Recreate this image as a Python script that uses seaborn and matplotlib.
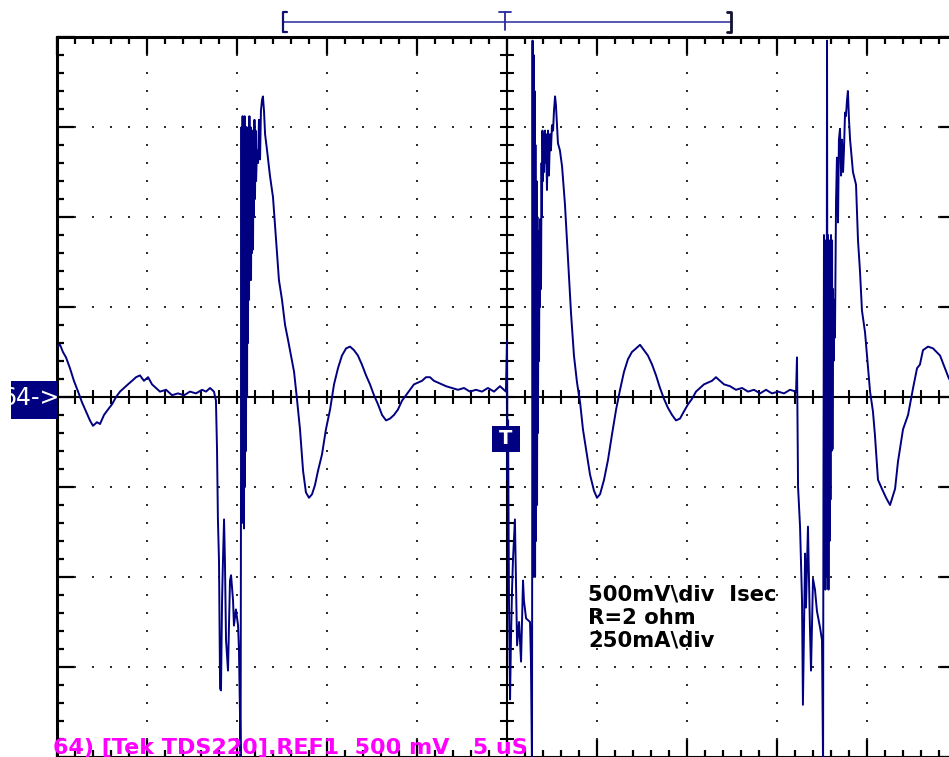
import numpy as np
import seaborn as sns
import matplotlib.pyplot as plt
from matplotlib.lines import Line2D
from matplotlib.patches import Rectangle
from matplotlib.ticker import MultipleLocator

# -----------------------------------------------------------------------------
# Tek TDS220 screen capture, REF1: 500 mV/div, 5 us/div, trigger at t = 0
# -----------------------------------------------------------------------------

# time in microseconds (relative to trigger)
time_us = [
    -25.0, -24.83, -24.67, -24.5, -24.28, -24.06, -23.83, -23.61, -23.39, -23.17,
    -23.0, -22.78, -22.61, -22.39, -22.17, -21.94, -21.72, -21.5, -21.28, -21.06,
    -20.83, -20.61, -20.39, -20.17, -19.94, -19.72, -19.5, -19.28, -18.94, -18.61,
    -18.28, -17.94, -17.61, -17.28, -16.94, -16.72, -16.5, -16.28, -16.17,
    # burst 1
    -16.11, -16.06, -16.0, -15.94, -15.89, -15.83, -15.78, -15.72, -15.67, -15.61,
    -15.5, -15.44, -15.39, -15.33, -15.22, -15.17, -15.06, -14.94, -14.89, -14.83,
    -14.8, -14.78, -14.75, -14.72, -14.69, -14.67, -14.64, -14.61, -14.58, -14.56,
    -14.53, -14.5, -14.47, -14.44, -14.42, -14.39, -14.36, -14.33, -14.31, -14.28,
    -14.25, -14.22, -14.19, -14.17, -14.14, -14.11, -14.08, -14.06, -14.03, -14.0,
    -13.97, -13.94, -13.89, -13.83, -13.78, -13.72, -13.67, -13.61, -13.56, -13.5,
    -13.44, -13.33, -13.17, -13.0, -12.83, -12.67,
    -12.5, -12.33, -12.17, -12.0, -11.83, -11.67, -11.5, -11.33, -11.17, -11.0,
    -10.83, -10.67, -10.5, -10.28, -10.06, -9.83, -9.61, -9.39, -9.17, -8.94,
    -8.72, -8.5, -8.28, -8.06, -7.83, -7.61, -7.39, -7.17, -6.94, -6.72,
    -6.5, -6.28, -6.06, -5.83, -5.61, -5.39, -5.17, -4.94, -4.72, -4.5,
    -4.28, -4.06, -3.83, -3.61, -3.39, -3.06, -2.72, -2.39, -2.06, -1.72,
    -1.39, -1.06, -0.72, -0.39, -0.17, -0.06,
    # burst 2 (trigger)
    0.0, 0.03, 0.06, 0.11, 0.17, 0.22, 0.28, 0.33, 0.44, 0.5,
    0.56, 0.67, 0.72, 0.78, 0.89, 0.94, 1.06, 1.17, 1.28, 1.33,
    1.39, 1.42, 1.45, 1.48, 1.5, 1.53, 1.56, 1.58, 1.61, 1.64,
    1.67, 1.69, 1.72, 1.75, 1.78, 1.81, 1.83, 1.86, 1.89, 1.92,
    1.94, 1.97, 2.0, 2.03, 2.06, 2.11, 2.14, 2.17, 2.22, 2.28,
    2.33, 2.39, 2.44, 2.5, 2.56, 2.61, 2.67, 2.72, 2.83, 2.94,
    3.06, 3.22, 3.39, 3.56,
    3.72, 3.89, 4.06, 4.22, 4.39, 4.61, 4.83, 5.0, 5.17, 5.39,
    5.61, 5.83, 6.06, 6.28, 6.5, 6.72, 6.94, 7.17, 7.39, 7.61,
    7.83, 8.06, 8.28, 8.5, 8.72, 8.94, 9.17, 9.39, 9.61, 9.83,
    10.06, 10.28, 10.5, 10.72, 10.94, 11.17, 11.39, 11.61, 11.83, 12.06,
    12.39, 12.72, 13.06, 13.39, 13.72, 14.06, 14.39, 14.72, 15.06, 15.39,
    15.72, 16.06,
    # burst 3
    16.11, 16.17, 16.28, 16.39, 16.44, 16.56, 16.61, 16.72, 16.83, 16.89,
    17.0, 17.11, 17.22, 17.39, 17.5, 17.56, 17.58, 17.61, 17.64, 17.67,
    17.69, 17.72, 17.75, 17.78, 17.81, 17.83, 17.86, 17.89, 17.92, 17.94,
    17.97, 18.0, 18.03, 18.06, 18.08, 18.11, 18.14, 18.17, 18.22, 18.28,
    18.33, 18.39, 18.44, 18.5,
    18.56, 18.61, 18.67, 18.72, 18.78, 18.83, 18.89, 18.94, 19.0, 19.06,
    19.22, 19.39, 19.5, 19.61, 19.72, 19.89, 20.06, 20.17, 20.33, 20.44,
    20.61, 20.83, 21.06, 21.28, 21.56, 21.72, 22.0, 22.28, 22.56, 22.78,
    22.94, 23.11, 23.39, 23.67, 24.06, 24.33, 24.56,
]

# voltage in volts
volts = [
    0.28, 0.29, 0.25, 0.22, 0.16, 0.09, 0.03, -0.03, -0.08, -0.13,
    -0.16, -0.14, -0.15, -0.10, -0.07, -0.04, 0.0, 0.03, 0.05, 0.07,
    0.09, 0.11, 0.12, 0.09, 0.11, 0.07, 0.05, 0.03, 0.04, 0.01,
    0.02, 0.01, 0.03, 0.02, 0.04, 0.03, 0.05, 0.03, -0.02,
    # burst 1
    -0.29, -0.68, -0.91, -1.62, -1.63, -1.13, -0.91, -0.68, -0.91, -1.35,
    -1.52, -1.24, -1.02, -0.99, -1.13, -1.27, -1.18, -1.27, -1.41, -1.79,
    -2.07, -0.73, 1.50, -0.70, 1.56, -0.60, 1.45, -0.73, 1.56, -0.50,
    1.40, -0.30, 1.50, 0.00, 1.30, 0.30, 1.43, 0.54, 1.56, 0.65,
    1.50, 0.65, 1.32, 0.80, 1.48, 0.82, 1.40, 1.00, 1.54, 1.10,
    1.48, 1.20, 1.37, 1.30, 1.54, 1.32, 1.59, 1.65, 1.67, 1.59,
    1.46, 1.37, 1.23, 1.11, 0.87, 0.65,
    0.54, 0.40, 0.32, 0.23, 0.14, -0.01, -0.18, -0.41, -0.53, -0.56,
    -0.54, -0.49, -0.41, -0.32, -0.18, -0.07, 0.07, 0.16, 0.23, 0.27,
    0.28, 0.26, 0.23, 0.18, 0.12, 0.07, 0.01, -0.04, -0.10, -0.13,
    -0.12, -0.10, -0.07, -0.02, 0.01, 0.04, 0.07, 0.08, 0.09, 0.11,
    0.11, 0.09, 0.08, 0.07, 0.06, 0.05, 0.04, 0.05, 0.03, 0.04,
    0.03, 0.05, 0.03, 0.06, 0.04, 0.03,
    # burst 2 (trigger)
    0.31, -0.46, -0.13, -1.13, -1.68, -1.35, -1.07, -0.91, -0.68, -1.02,
    -1.38, -1.25, -1.35, -1.47, -1.02, -1.13, -1.23, -1.24, -1.25, -1.46,
    -2.07, 1.98, -1.00, 1.90, -0.90, 1.70, -1.00, 1.40, -0.80, 1.20,
    -0.60, 1.00, -0.20, 0.92, 0.20, 0.92, 0.50, 0.99, 0.60, 1.30,
    1.00, 1.48, 1.20, 1.46, 1.25, 1.48, 1.30, 1.46, 1.15, 1.48,
    1.23, 1.46, 1.37, 1.51, 1.48, 1.59, 1.67, 1.62, 1.41, 1.37,
    1.28, 1.07, 0.77, 0.46,
    0.23, 0.08, -0.03, -0.18, -0.29, -0.43, -0.52, -0.56, -0.54, -0.46,
    -0.35, -0.21, -0.07, 0.04, 0.14, 0.21, 0.25, 0.27, 0.29, 0.26,
    0.23, 0.18, 0.12, 0.05, -0.01, -0.06, -0.10, -0.13, -0.12, -0.08,
    -0.04, -0.01, 0.03, 0.05, 0.07, 0.08, 0.09, 0.11, 0.09, 0.07,
    0.06, 0.04, 0.05, 0.03, 0.04, 0.02, 0.04, 0.02, 0.03, 0.02,
    0.04, 0.03,
    # burst 3
    0.22, -0.50, -0.72, -1.13, -1.71, -0.87, -1.17, -0.72, -1.28, -1.52,
    -1.01, -1.07, -1.19, -1.28, -1.35, -2.07, -0.50, 0.90, -1.00, 0.80,
    -1.07, 0.87, -0.90, 1.98, -1.00, 0.90, -1.07, 0.65, -0.80, 0.87,
    -0.57, 0.90, -0.30, 0.87, -0.29, 0.60, 0.20, 0.54, 0.33, 1.09,
    1.33, 0.97, 1.43, 1.49,
    1.23, 1.43, 1.25, 1.37, 1.58, 1.56, 1.65, 1.70, 1.54, 1.43,
    1.25, 1.18, 0.87, 0.70, 0.48, 0.36, 0.16, 0.03, -0.08, -0.21,
    -0.46, -0.51, -0.56, -0.60, -0.51, -0.36, -0.18, -0.10, 0.05, 0.16,
    0.18, 0.26, 0.28, 0.27, 0.23, 0.16, 0.10,
]

screen_label = "64) [Tek TDS220].REF1  500 mV   5 uS"
note_lines = ["500mV\\div  Isec", "R=2 ohm", "250mA\\div"]

TRACE = "#000080"
W, H = 949, 757


def fx(px):
    return px / W


def fy(py):
    return 1 - py / H


def main():
    sns.set_style("white")
    plt.rcParams['font.family'] = ['DejaVu Sans']

    fig = plt.figure(figsize=(W / 100, H / 100), dpi=100)
    ax = fig.add_axes([fx(57), 0, 900 / W, 720 / H])

    # dotted graticule
    minor_t = np.arange(-24, 25, 1)
    minor_v = np.round(np.arange(-1.9, 1.95, 0.1), 2)
    for t in [-20, -15, -10, -5, 5, 10, 15, 20]:
        ax.scatter(np.full_like(minor_v, t), minor_v, s=2.5, marker='s',
                   color='#303030', linewidths=0, zorder=1)
    for v in [-1.5, -1.0, -0.5, 0.5, 1.0, 1.5]:
        ax.scatter(minor_t, np.full_like(minor_t, v, dtype=float), s=2.5,
                   marker='s', color='#303030', linewidths=0, zorder=1)

    # centre cross with ticks
    ax.axhline(0, color='black', lw=1.5, zorder=2)
    ax.axvline(0, color='black', lw=1.5, zorder=2)
    ax.plot(minor_t, np.zeros_like(minor_t), ls='none', marker='|',
            ms=10, mew=1.5, color='black', zorder=2)
    ax.plot(np.zeros_like(minor_v), minor_v, ls='none', marker='_',
            ms=10, mew=1.5, color='black', zorder=2)

    sns.lineplot(x=time_us, y=volts, sort=False, estimator=None,
                 color=TRACE, lw=1.4, ax=ax, zorder=3)

    ax.set_xlim(-25, 25)
    ax.set_ylim(-2, 2)
    ax.xaxis.set_major_locator(MultipleLocator(5))
    ax.xaxis.set_minor_locator(MultipleLocator(1))
    ax.yaxis.set_major_locator(MultipleLocator(0.5))
    ax.yaxis.set_minor_locator(MultipleLocator(0.1))
    ax.tick_params(which='both', direction='in', top=True, bottom=True,
                   left=True, right=True, labelbottom=False, labelleft=False,
                   color='black', width=1.6)
    ax.tick_params(which='major', length=13)
    ax.tick_params(which='minor', length=5)
    ax.set_xlabel('')
    ax.set_ylabel('')
    for s in ax.spines.values():
        s.set_linewidth(2.2)
        s.set_color('black')

    # horizontal position bar at top
    bar = '#2828a0'
    fig.add_artist(Line2D([fx(283), fx(731)], [fy(22), fy(22)], color=bar, lw=1.1))
    fig.add_artist(Line2D([fx(287), fx(283), fx(283), fx(287)],
                          [fy(12), fy(12), fy(32), fy(32)], color='#101070', lw=1.6))
    fig.add_artist(Line2D([fx(727), fx(731), fx(731), fx(727)],
                          [fy(12), fy(12), fy(32), fy(32)], color='#101030', lw=2.0))
    fig.add_artist(Line2D([fx(499), fx(511)], [fy(12), fy(12)], color=bar, lw=1.3))
    fig.add_artist(Line2D([fx(505), fx(505)], [fy(12), fy(30)], color=bar, lw=1.3))

    # channel ground marker
    fig.add_artist(Rectangle((fx(11), fy(419)), fx(46), 38 / H,
                             color=TRACE, lw=0))
    fig.text(fx(1), fy(398), "64->", color='white', fontsize=17,
             va='center', ha='left')

    # trigger marker
    fig.add_artist(Rectangle((fx(492), fy(452)), fx(28), 26 / H,
                             color=TRACE, lw=0))
    fig.text(fx(506), fy(439), "T", color='white', fontsize=14,
             fontweight='bold', va='center', ha='center')

    fig.text(fx(53), fy(753), screen_label, color='#ff00ff', fontsize=16,
             fontweight='bold', va='baseline', ha='left')

    for i, line in enumerate(note_lines):
        fig.text(fx(588), fy(600 + 23.5 * i), line, color='black', fontsize=15.2,
                 fontweight='bold', va='baseline', ha='left')

    fig.savefig('out.png', dpi=100)


if __name__ == "__main__":
    main()
